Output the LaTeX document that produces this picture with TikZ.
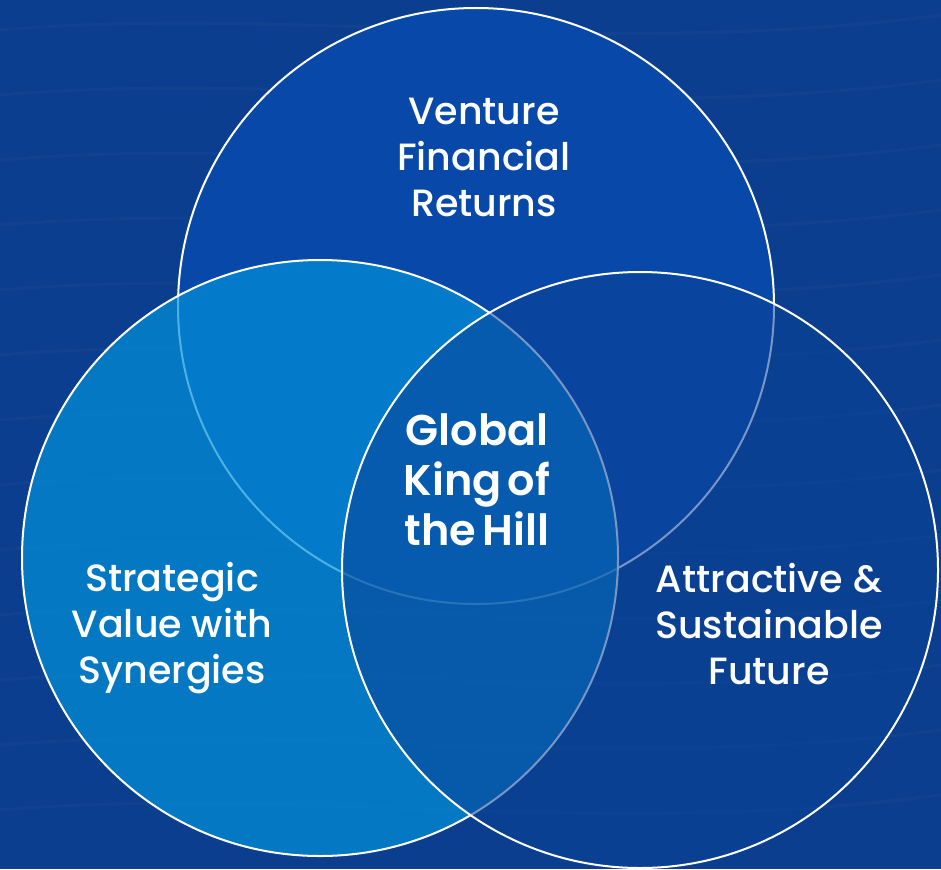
\documentclass[tikz,border=0pt]{standalone}
\usepackage{fontspec}
\setmainfont{Poppins}
\newfontfamily\popmedium{Poppins Medium}
\newfontfamily\popsemi{Poppins SemiBold}
\definecolor{bgblue}{RGB}{11,62,142}
\definecolor{topblue}{RGB}{8,72,168}
\definecolor{leftblue}{RGB}{2,145,217}
\definecolor{rightblue}{RGB}{10,66,151}
\begin{document}
\begin{tikzpicture}[x=1pt,y=-1pt,
  ring/.style={draw=white,line width=2pt},
  label/.style={text=white,align=center,font=\popmedium\fontsize{38}{46}\selectfont},
  centre/.style={text=white,align=center,font=\popsemi\fontsize{43}{50}\selectfont}]
\useasboundingbox (0,0) rectangle (941,869);
\fill[bgblue] (0,0) rectangle (941,869);
% faint waves in the background
\foreach \y in {30,95,160,225,290,355,420,485,550,615,680,745,810}
  \draw[white,opacity=.025,line width=3pt] (0,\y) .. controls (300,\y-25) and (600,\y+30) .. (941,\y-15);
\draw[ring,fill=topblue] (476,306) circle (298);
\draw[ring,fill=leftblue,fill opacity=.7] (320,558) circle (298);
\draw[ring,fill=rightblue,fill opacity=.55] (640,570) circle (298);
\node[label] (venture) at (484,157) {Venture\\Financial\\Returns};
\node[label] (strategic) at (172,628) {Strategic\\Value with\\Synergies};
\node[label] (attractive) at (769,624) {Attractive \&\\Sustainable\\Future};
\node[centre] (king) at (477,480) {Global\\King\hspace{-4pt} of\\the\hspace{-4pt} Hill};
\end{tikzpicture}
\end{document}
